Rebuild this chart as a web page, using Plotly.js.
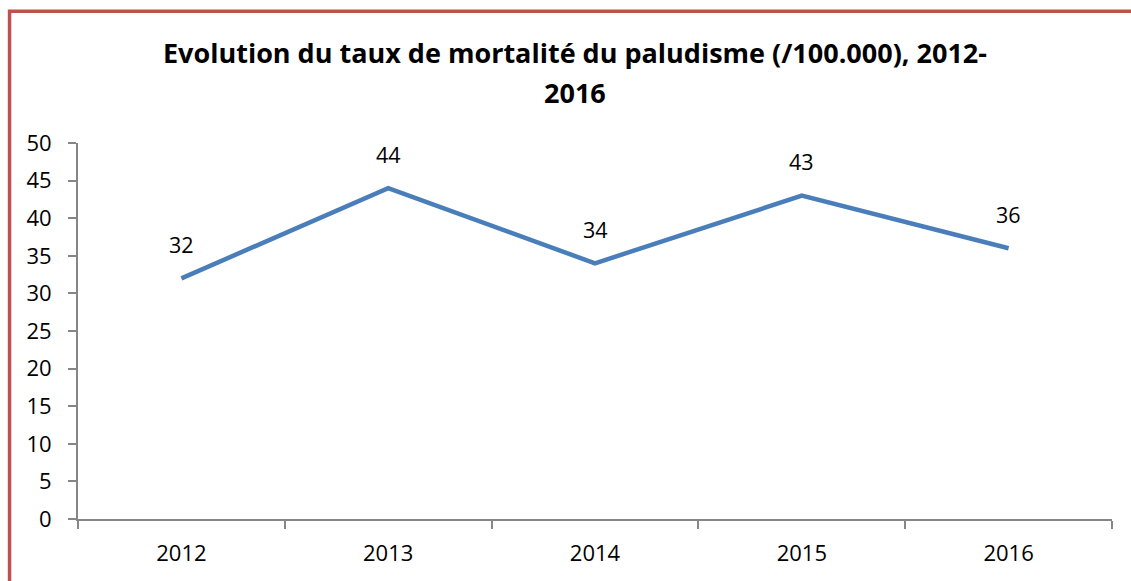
<!DOCTYPE html>
<html>
<head>
<meta charset="utf-8">
<script src="https://cdn.plot.ly/plotly-3.0.1.min.js"></script>
<style>html,body{margin:0;padding:0;background:#fff;}#chart{width:1131px;height:581px;}</style>
</head>
<body>
<div id="chart"></div>
<script>
const years = ["2012", "2013", "2014", "2015", "2016"];
const rates = [32, 44, 34, 43, 36];
const titleLines = ["Evolution du taux de mortalité du paludisme (/100.000), 2012-", "2016"];

const fontFam = "Open Sans, Liberation Sans, sans-serif";

const trace = {
  x: years,
  y: rates,
  type: "scatter",
  mode: "lines",
  line: {color: "#4A7EBB", width: 4.5},
  hoverinfo: "x+y"
};

const annotations = years.map((yr, i) => ({
  x: i, y: rates[i], xref: "x", yref: "y",
  text: String(rates[i]), showarrow: false, yshift: 34,
  xanchor: "center", yanchor: "middle",
  font: {family: fontFam, size: 21.5, color: "#000"}
}));

const titleY = [1.242, 1.1356];
titleLines.forEach((t, i) => annotations.push({
  x: 0.4807, y: titleY[i], xref: "paper", yref: "paper",
  xanchor: "center", yanchor: "middle", showarrow: false,
  text: "<b>" + t + "</b>",
  font: {family: fontFam, size: 27, color: "#000"}
}));

const layout = {
  width: 1131, height: 581,
  margin: {l: 78, r: 19, t: 143, b: 62, pad: 0},
  paper_bgcolor: "#fff", plot_bgcolor: "#fff",
  showlegend: false,
  xaxis: {
    type: "category",
    range: [-0.5, 4.5],
    showgrid: false, zeroline: false,
    showline: true, linecolor: "#868686", linewidth: 2,
    ticks: "outside", tickson: "boundaries", ticklen: 8, tickwidth: 2, tickcolor: "#868686",
    ticklabelstandoff: 14,
    tickfont: {family: fontFam, size: 22, color: "#000"}
  },
  yaxis: {
    range: [0, 50], tickvals: [0,5,10,15,20,25,30,35,40,45,50],
    showgrid: false, zeroline: false,
    showline: true, linecolor: "#868686", linewidth: 2,
    ticks: "outside", ticklen: 8, tickwidth: 2, tickcolor: "#868686",
    ticklabelstandoff: 12,
    tickfont: {family: fontFam, size: 22, color: "#000"}
  },
  annotations: annotations,
  shapes: [{
    type: "rect", xref: "paper", yref: "paper",
    x0: -0.0662, x1: 1.1, y0: -0.3, y1: 1.3505,
    line: {color: "#C0504D", width: 3.5}, fillcolor: "rgba(0,0,0,0)", layer: "above"
  }]
};

Plotly.newPlot("chart", [trace], layout, {displayModeBar: false, staticPlot: true});
</script>
</body>
</html>
